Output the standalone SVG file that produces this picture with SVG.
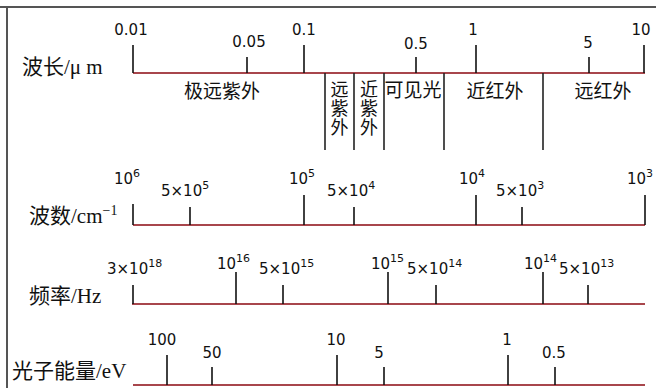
<svg xmlns="http://www.w3.org/2000/svg" width="656" height="388" viewBox="0 0 656 388">
<style>
.ax{stroke:#a8464c;stroke-width:1.8;fill:none}
.tk{stroke:#111;stroke-width:1.6;fill:none}
.dv{stroke:#222;stroke-width:1.6;fill:none}
.num{font-family:"DejaVu Sans",sans-serif;font-size:15px;fill:#111}
.sup{font-size:11px}
.cn{font-family:"Noto Sans CJK SC",sans-serif;font-size:19px;fill:#111}
.cv{font-family:"Noto Sans CJK SC",sans-serif;font-size:18px;fill:#111;writing-mode:vertical-rl;letter-spacing:1px}
.yl{font-family:"Noto Sans CJK SC",sans-serif;font-size:21px;fill:#111}
.lat{font-family:"Liberation Serif",serif}
</style>
<rect x="0" y="0" width="656" height="388" fill="#fff"/>
<g id="frame">
<line x1="0" y1="7" x2="656" y2="7" stroke="#555" stroke-width="2"/>
<line x1="7" y1="7" x2="7" y2="388" stroke="#555" stroke-width="2"/>
</g>

<g id="wavelength">
<text class="yl" x="22" y="74">波长<tspan class="lat">/μ m</tspan></text>
<line class="ax" x1="133" y1="73" x2="645" y2="73"/>
<line class="tk" x1="133" y1="45" x2="133" y2="73"/>
<line class="tk" x1="247" y1="57" x2="247" y2="73"/>
<line class="tk" x1="304" y1="45" x2="304" y2="73"/>
<line class="tk" x1="416" y1="57" x2="416" y2="73"/>
<line class="tk" x1="476" y1="45" x2="476" y2="73"/>
<line class="tk" x1="589" y1="57" x2="589" y2="73"/>
<line class="tk" x1="644" y1="45" x2="644" y2="73"/>
<text class="num" x="131" y="35" text-anchor="middle">0.01</text>
<text class="num" x="249" y="47" text-anchor="middle">0.05</text>
<text class="num" x="304" y="35" text-anchor="middle">0.1</text>
<text class="num" x="416" y="49" text-anchor="middle">0.5</text>
<text class="num" x="473" y="35" text-anchor="middle">1</text>
<text class="num" x="588" y="48" text-anchor="middle">5</text>
<text class="num" x="641" y="35" text-anchor="middle">10</text>
</g>

<g id="regions">
<line class="dv" x1="325" y1="73" x2="325" y2="150"/>
<line class="dv" x1="354" y1="73" x2="354" y2="150"/>
<line class="dv" x1="384" y1="73" x2="384" y2="150"/>
<line class="dv" x1="444" y1="73" x2="444" y2="150"/>
<line class="dv" x1="543" y1="73" x2="543" y2="150"/>
<text class="cn" x="222" y="98" text-anchor="middle">极远紫外</text>
<text class="cv" x="339.5" y="80">远紫外</text>
<text class="cv" x="369" y="80">近紫外</text>
<text class="cn" x="413" y="97" text-anchor="middle">可见光</text>
<text class="cn" x="495" y="98" text-anchor="middle">近红外</text>
<text class="cn" x="603" y="98" text-anchor="middle">远红外</text>
</g>

<g id="wavenumber">
<text class="yl" x="29" y="223">波数<tspan class="lat">/cm</tspan><tspan class="lat" font-size="14" dy="-8">−1</tspan></text>
<line class="ax" x1="133" y1="225" x2="645" y2="225"/>
<line class="tk" x1="133" y1="204" x2="133" y2="225"/>
<line class="tk" x1="190" y1="207" x2="190" y2="225"/>
<line class="tk" x1="304" y1="195" x2="304" y2="225"/>
<line class="tk" x1="354" y1="207" x2="354" y2="225"/>
<line class="tk" x1="476" y1="195" x2="476" y2="225"/>
<line class="tk" x1="522" y1="207" x2="522" y2="225"/>
<line class="tk" x1="645" y1="195" x2="645" y2="225"/>
<text class="num" x="114" y="184">10<tspan class="sup" dy="-7">6</tspan></text>
<text class="num" x="161" y="196">5×10<tspan class="sup" dy="-7">5</tspan></text>
<text class="num" x="289" y="184">10<tspan class="sup" dy="-7">5</tspan></text>
<text class="num" x="327" y="196">5×10<tspan class="sup" dy="-7">4</tspan></text>
<text class="num" x="459" y="184">10<tspan class="sup" dy="-7">4</tspan></text>
<text class="num" x="496" y="196">5×10<tspan class="sup" dy="-7">3</tspan></text>
<text class="num" x="627" y="184">10<tspan class="sup" dy="-7">3</tspan></text>
</g>

<g id="frequency">
<text class="yl" x="29" y="303">频率<tspan class="lat">/Hz</tspan></text>
<line class="ax" x1="132" y1="304" x2="645" y2="304"/>
<line class="tk" x1="133" y1="285" x2="133" y2="304"/>
<line class="tk" x1="236" y1="272" x2="236" y2="304"/>
<line class="tk" x1="283" y1="285" x2="283" y2="304"/>
<line class="tk" x1="388" y1="272" x2="388" y2="304"/>
<line class="tk" x1="436" y1="285" x2="436" y2="304"/>
<line class="tk" x1="543" y1="272" x2="543" y2="304"/>
<line class="tk" x1="588" y1="285" x2="588" y2="304"/>
<text class="num" x="107" y="274">3×10<tspan class="sup" dy="-7">18</tspan></text>
<text class="num" x="217" y="269">10<tspan class="sup" dy="-7">16</tspan></text>
<text class="num" x="259" y="274">5×10<tspan class="sup" dy="-7">15</tspan></text>
<text class="num" x="371" y="269">10<tspan class="sup" dy="-7">15</tspan></text>
<text class="num" x="407" y="274">5×10<tspan class="sup" dy="-7">14</tspan></text>
<text class="num" x="524" y="269">10<tspan class="sup" dy="-7">14</tspan></text>
<text class="num" x="559" y="274">5×10<tspan class="sup" dy="-7">13</tspan></text>
</g>

<g id="energy">
<text class="yl" x="12" y="378" font-size="23">光子能量<tspan class="lat" font-size="21">/eV</tspan></text>
<line class="ax" x1="133" y1="385" x2="645" y2="385"/>
<line class="tk" x1="167" y1="355" x2="167" y2="385"/>
<line class="tk" x1="212" y1="367" x2="212" y2="385"/>
<line class="tk" x1="337" y1="355" x2="337" y2="385"/>
<line class="tk" x1="384" y1="367" x2="384" y2="385"/>
<line class="tk" x1="508" y1="355" x2="508" y2="385"/>
<line class="tk" x1="555" y1="367" x2="555" y2="385"/>
<text class="num" x="162" y="345" text-anchor="middle">100</text>
<text class="num" x="212" y="358" text-anchor="middle">50</text>
<text class="num" x="336" y="345" text-anchor="middle">10</text>
<text class="num" x="379" y="358" text-anchor="middle">5</text>
<text class="num" x="507" y="345" text-anchor="middle">1</text>
<text class="num" x="554" y="358" text-anchor="middle">0.5</text>
</g>
</svg>
